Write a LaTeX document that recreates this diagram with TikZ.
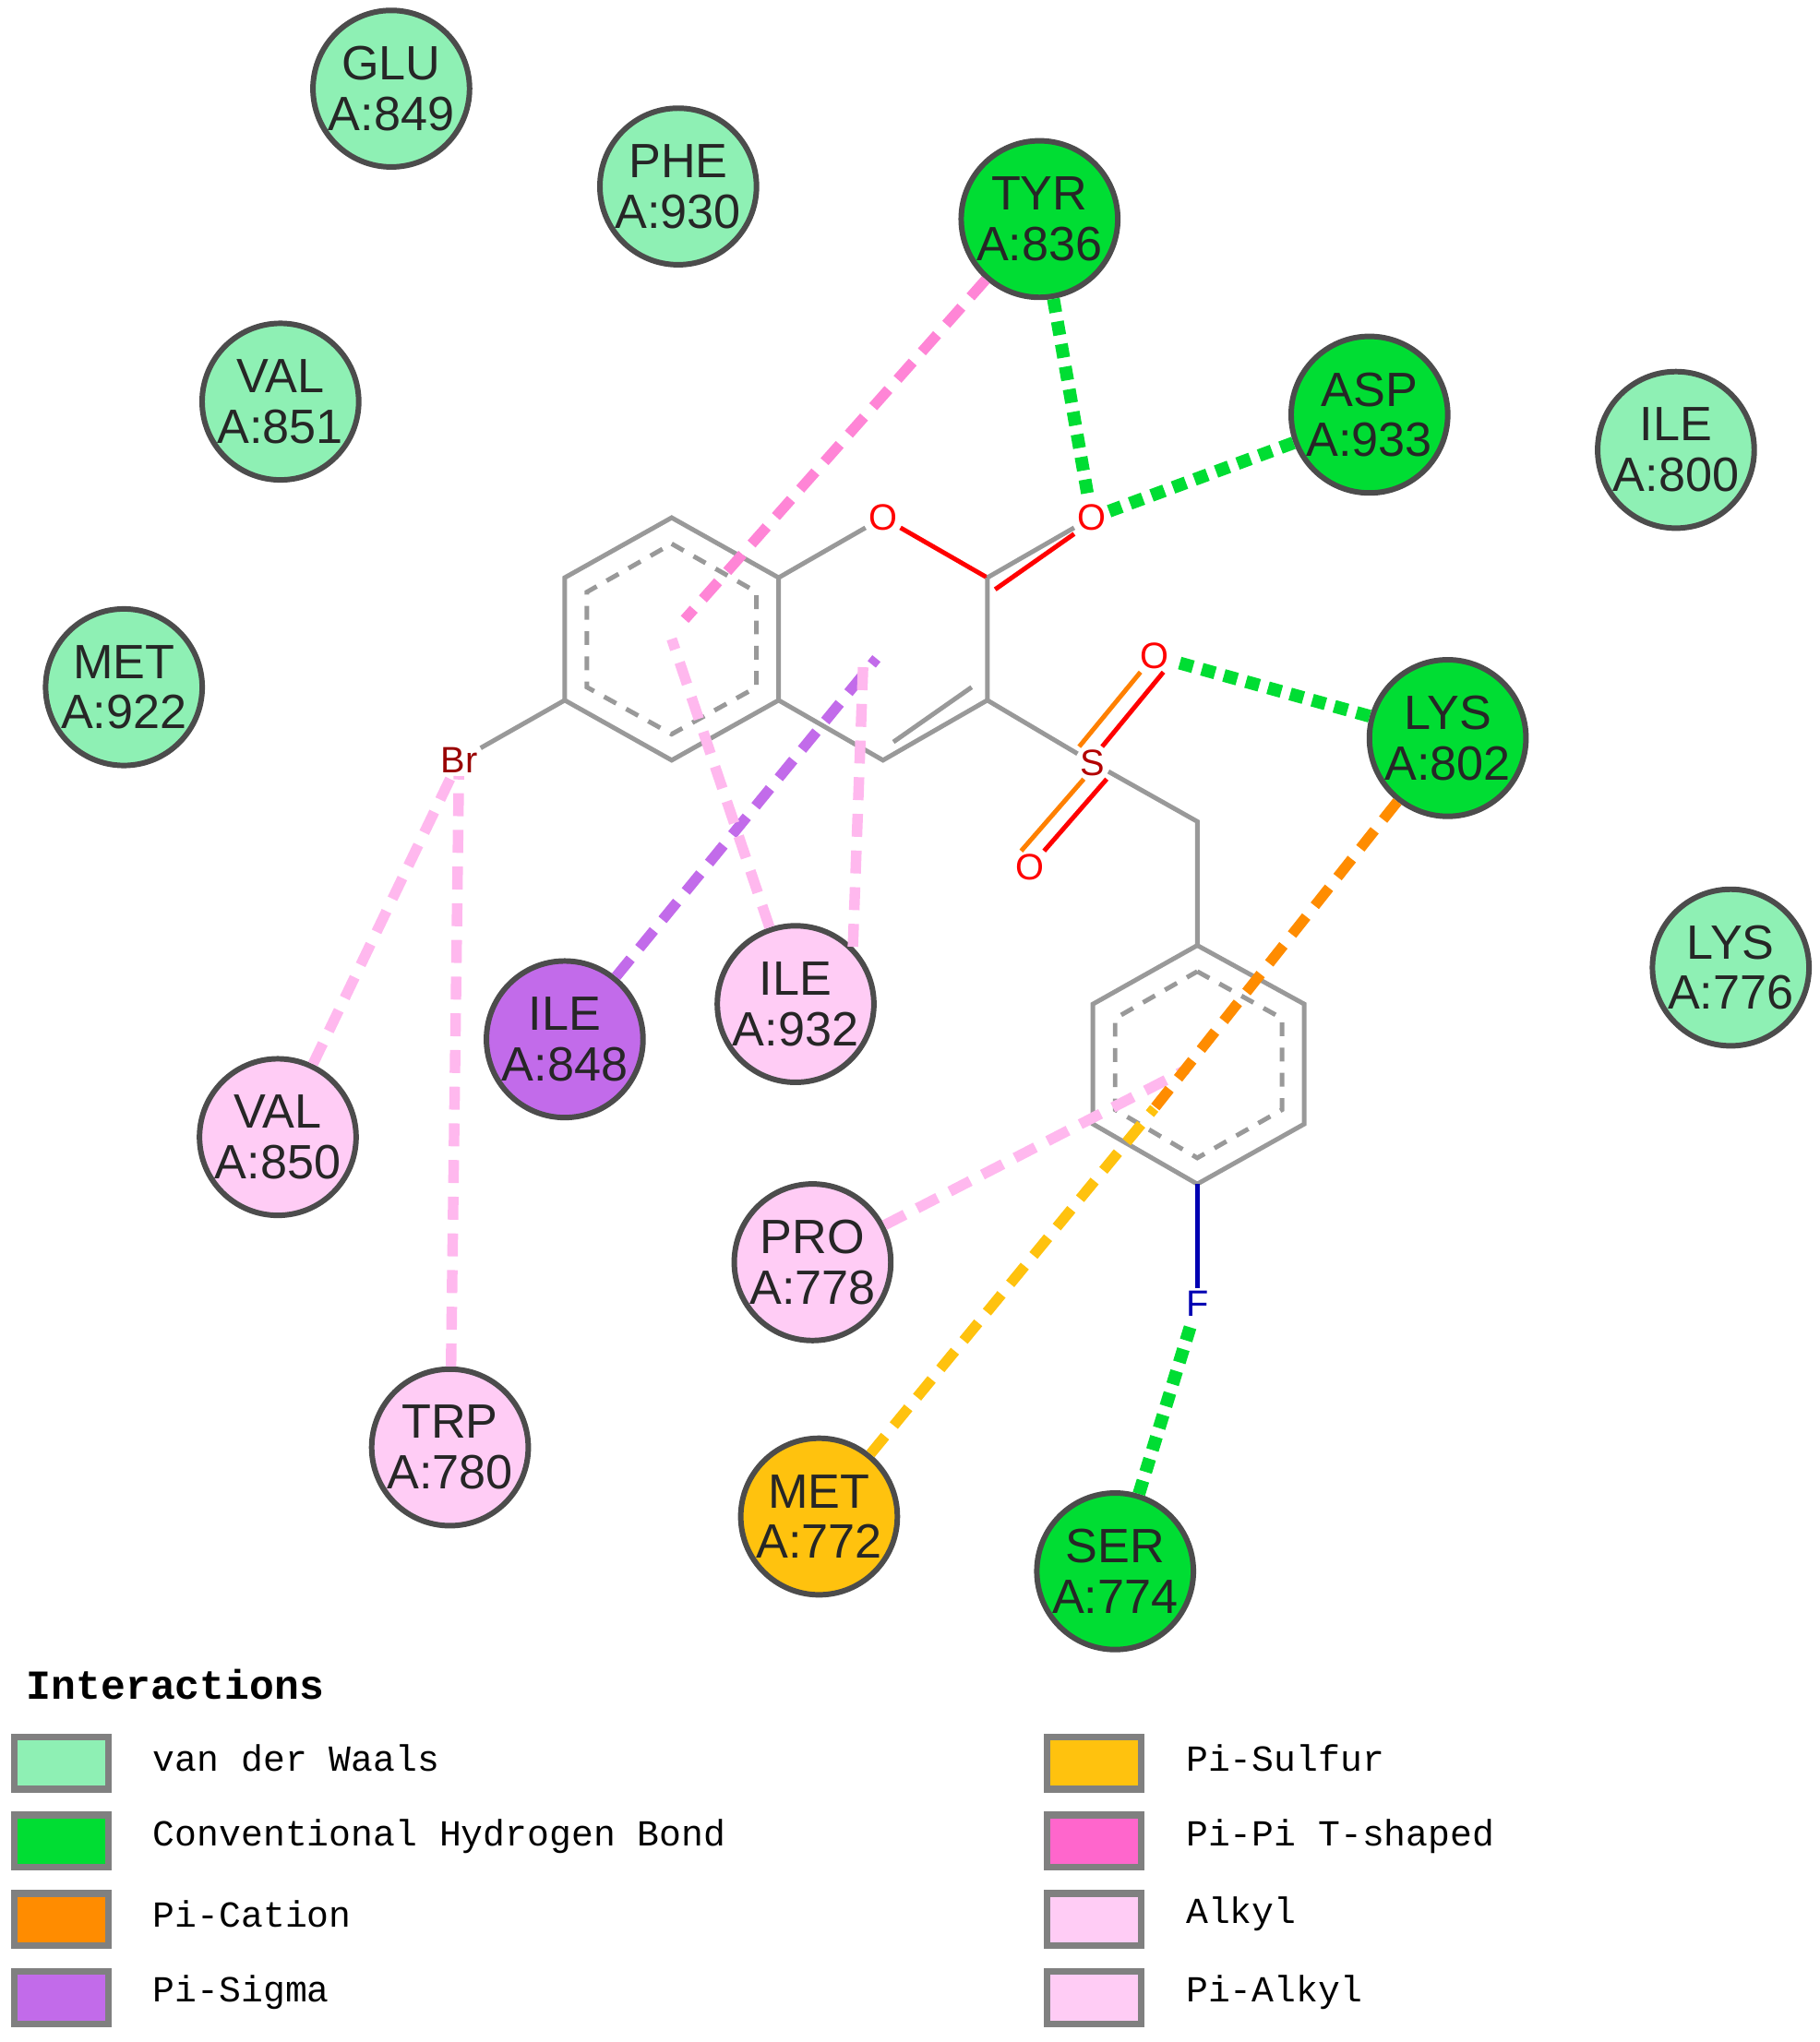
\documentclass[tikz,border=0pt]{standalone}
\usepackage{fontspec}
\setmainfont{Liberation Sans}
\newfontfamily\monof{Liberation Mono}
\begin{document}
\begin{tikzpicture}[x=0.01cm,y=-0.01cm,
res/.style={circle,draw=black!70,line width=1.2pt,minimum size=1.2cm,inner sep=0pt,align=center,font=\fontsize{10.5}{11}\selectfont,text=black!85},
vdw/.style={res,fill=vdwc},
hb/.style={res,fill=hbc},
pis/.style={res,fill=psc},
alk/.style={res,fill=alkc},
ps/.style={res,fill=sulc},
bond/.style={draw=gray!80,line width=1pt},
arom/.style={draw=gray!80,line width=1pt,dash pattern=on 3pt off 2.5pt},
hbl/.style={draw=hbc,line width=2.8pt,dash pattern=on 3pt off 2pt},
intl/.style={line width=2.3pt,dash pattern=on 5pt off 3pt},
atom/.style={inner sep=0.5pt,font=\fontsize{8}{8}\selectfont,fill=white},
sw/.style={draw=gray,line width=1.5pt,minimum width=0.72cm,minimum height=0.4cm,inner sep=0pt},
lt/.style={anchor=west,font=\monof\fontsize{8}{8}\selectfont}]
\definecolor{vdwc}{HTML}{8EF0B4}
\definecolor{hbc}{HTML}{00DD33}
\definecolor{psc}{HTML}{C26BEA}
\definecolor{alkc}{HTML}{FFCCF5}
\definecolor{alkl}{HTML}{FFB8EE}
\definecolor{sulc}{HTML}{FFC20E}
\definecolor{catc}{HTML}{FF8C00}
\definecolor{ppc}{HTML}{FF66CC}
\useasboundingbox (0,0) rectangle (1395,1566);
\coordinate (b1) at (515,397); \coordinate (b2) at (597,443); \coordinate (b3) at (597,537);
\coordinate (b4) at (515,583); \coordinate (b5) at (433,537); \coordinate (b6) at (433,443);
\coordinate (c2) at (757,443); \coordinate (c3) at (757,537); \coordinate (c4) at (677,583);
\coordinate (ch2) at (918,630);
\coordinate (r1) at (918,725); \coordinate (r2) at (1000,770); \coordinate (r3) at (1000,862);
\coordinate (r4) at (918,908); \coordinate (r5) at (838,862); \coordinate (r6) at (838,770);
\coordinate (bc) at (515,490); \coordinate (pc) at (672,505); \coordinate (rc) at (910,820);
\node[vdw] (glu) at (300,68) {GLU\\A:849};
\node[vdw] (phe) at (520,143) {PHE\\A:930};
\node[hb] (tyr) at (797,168) {TYR\\A:836};
\node[vdw] (val851) at (215,308) {VAL\\A:851};
\node[hb] (asp) at (1050,318) {ASP\\A:933};
\node[vdw] (ile800) at (1285,345) {ILE\\A:800};
\node[vdw] (met922) at (95,527) {MET\\A:922};
\node[hb] (lys802) at (1110,566) {LYS\\A:802};
\node[vdw] (lys776) at (1327,742) {LYS\\A:776};
\node[pis] (ile848) at (433,797) {ILE\\A:848};
\node[alk] (ile932) at (610,770) {ILE\\A:932};
\node[alk] (val850) at (213,872) {VAL\\A:850};
\node[alk] (pro) at (623,968) {PRO\\A:778};
\node[alk] (trp) at (345,1110) {TRP\\A:780};
\node[ps] (met772) at (628,1163) {MET\\A:772};
\node[hb] (ser) at (855,1205) {SER\\A:774};
\draw[bond] (b1)--(b2)--(b3)--(b4)--(b5)--(b6)--cycle;
\draw[arom] (515,417)--(580,454)--(580,527)--(515,563)--(450,527)--(450,454)--cycle;
\node[atom,text=red] (o1) at (677,397) {O};
\node[atom,text=red] (o2) at (837,397) {O};
\node[atom,text=red!70!black] (s) at (838,585) {S};
\node[atom,text=red] (o3) at (885,503) {O};
\node[atom,text=red] (o4) at (790,665) {O};
\node[atom,text=red!60!black] (br) at (352,583) {Br};
\node[atom,text=blue!70!black] (f) at (918,1000) {F};
\draw[bond] (b2)--(o1); \draw[bond,red] (o1)--(c2);
\draw[bond] (c2)--(c3)--(c4)--(b3);
\draw[bond] (685,569)--(745,527);
\draw[bond] (c2)--(o2); \draw[bond,red] (763,452)--(o2.south west);
\draw[bond] (c3)--(s)--(ch2)--(r1);
\draw[bond,orange] ([xshift=-3pt]s.north)--([xshift=-3pt]o3.south); \draw[bond,red] ([xshift=2pt]s.north)--([xshift=2pt]o3.south);
\draw[bond,orange] ([xshift=-2pt]s.south)--([xshift=-2pt]o4.north); \draw[bond,red] ([xshift=3pt]s.south)--([xshift=3pt]o4.north);
\draw[bond] (b5)--(br);
\draw[bond] (r1)--(r2)--(r3)--(r4)--(r5)--(r6)--cycle;
\draw[arom] (918,745)--(983,781)--(983,851)--(918,888)--(855,851)--(855,781)--cycle;
\draw[bond,blue!70!black] (r4)--(f);
\draw[hbl] (tyr)--(o2); \draw[hbl] (asp)--(o2); \draw[hbl] (lys802)--(o3); \draw[hbl] (ser)--(f);
\draw[intl,ppc!80] (tyr)--(525,475);
\draw[intl,psc] (ile848)--(pc);
\draw[intl,alkl] (ile932)--(bc);
\draw[intl,alkl] (ile932.north east)--(662,505);
\draw[intl,alkl] (val850)--(br);
\draw[intl,alkl] (trp)--(br);
\draw[intl,alkl] (pro)--(rc);
\draw[intl,catc] (lys802)--(885,850);
\draw[intl,sulc] (met772)--(885,850);
\node[anchor=west,font=\monof\bfseries\fontsize{9}{9}\selectfont] (ttl) at (8,1292) {Interactions};
\node[sw,fill=vdwc] (s1) at (47,1352) {}; \node[lt] (t1) at (105,1348) {van der Waals};
\node[sw,fill=hbc] (s2) at (47,1412) {}; \node[lt] (t2) at (105,1408) {Conventional Hydrogen Bond};
\node[sw,fill=catc] (s3) at (47,1472) {}; \node[lt] (t3) at (105,1468) {Pi-Cation};
\node[sw,fill=psc] (s4) at (47,1532) {}; \node[lt] (t4) at (105,1528) {Pi-Sigma};
\node[sw,fill=sulc] (s5) at (839,1352) {}; \node[lt] (t5) at (897,1348) {Pi-Sulfur};
\node[sw,fill=ppc] (s6) at (839,1412) {}; \node[lt] (t6) at (897,1408) {Pi-Pi T-shaped};
\node[sw,fill=alkc] (s7) at (839,1472) {}; \node[lt] (t7) at (897,1468) {Alkyl};
\node[sw,fill=alkc] (s8) at (839,1532) {}; \node[lt] (t8) at (897,1528) {Pi-Alkyl};
\end{tikzpicture}
\end{document}
